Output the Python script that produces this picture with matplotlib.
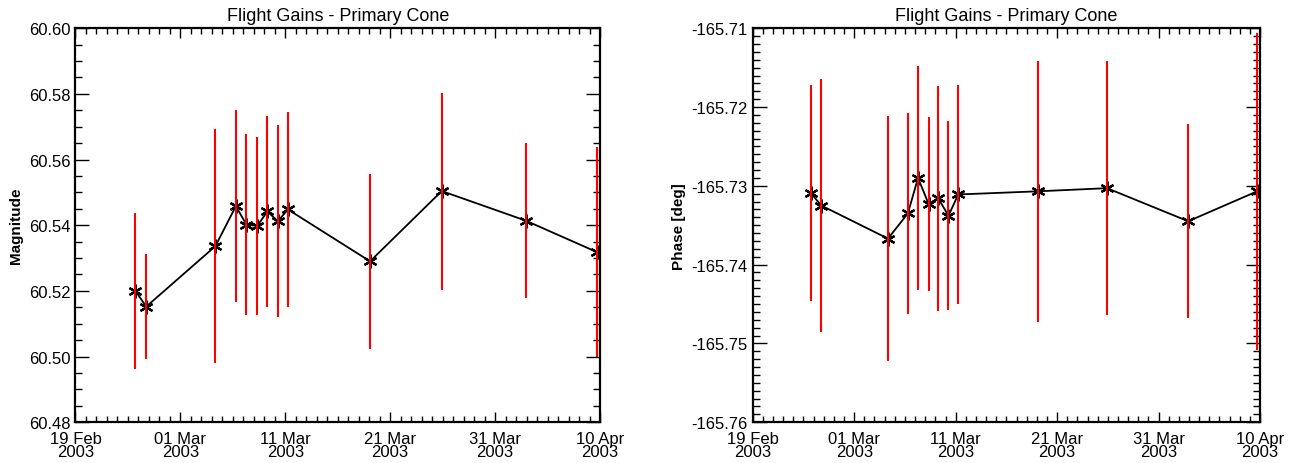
import matplotlib
matplotlib.use("Agg")
import matplotlib.pyplot as plt
import matplotlib.dates as mdates
from matplotlib.ticker import FixedLocator, MultipleLocator, FormatStrFormatter
import pandas as pd

dates = pd.to_datetime([
    "2003-02-24 17:00", "2003-02-25 18:00", "2003-03-04 08:00",
    "2003-03-06 07:00", "2003-03-07 07:00", "2003-03-08 08:00",
    "2003-03-09 07:00", "2003-03-10 07:00", "2003-03-11 06:00",
    "2003-03-19 02:00", "2003-03-25 22:00", "2003-04-02 22:00",
    "2003-04-09 17:00",
])

magnitude = [60.5200, 60.5152, 60.5336, 60.5458, 60.5402, 60.5398, 60.5442,
             60.5412, 60.5448, 60.5290, 60.5504, 60.5414, 60.5318]
mag_err = [0.0237, 0.0160, 0.0357, 0.0292, 0.0276, 0.0272, 0.0291,
           0.0293, 0.0298, 0.0266, 0.0300, 0.0237, 0.0320]

phase = [-165.7309, -165.7325, -165.7367, -165.7335, -165.7290, -165.7323,
         -165.7316, -165.7338, -165.7311, -165.7307, -165.7303, -165.7345,
         -165.7307]
phase_err = [0.0137, 0.0160, 0.0155, 0.0128, 0.0142, 0.0110, 0.0143,
             0.0120, 0.0139, 0.0166, 0.0161, 0.0123, 0.0201]

major_dates = pd.to_datetime(["2003-02-19", "2003-03-01", "2003-03-11",
                              "2003-03-21", "2003-03-31", "2003-04-10"])
title = "Flight Gains - Primary Cone"

plt.rcParams['font.family'] = ['Liberation Sans', 'DejaVu Sans']

fig = plt.figure(figsize=(12.92, 4.64), dpi=100)
ax1 = fig.add_axes([0.0584, 0.088, 0.406, 0.849])
ax2 = fig.add_axes([0.5826, 0.088, 0.3927, 0.849])


def style(ax, ylim, ymaj, ymin, fmt, ylabel):
    ax.set_xlim(major_dates[0], major_dates[-1])
    ax.xaxis.set_major_locator(FixedLocator(mdates.date2num(major_dates)))
    ax.xaxis.set_major_formatter(mdates.DateFormatter("%d %b\n%Y"))
    ax.xaxis.set_minor_locator(mdates.DayLocator())
    ax.set_ylim(*ylim)
    ax.yaxis.set_major_locator(MultipleLocator(ymaj))
    ax.yaxis.set_minor_locator(MultipleLocator(ymin))
    ax.yaxis.set_major_formatter(FormatStrFormatter(fmt))
    ax.tick_params(which='both', direction='in', top=True, right=True,
                   labelsize=12, width=1.0)
    ax.tick_params(axis='y', which='major', length=10)
    ax.tick_params(axis='y', which='minor', length=5)
    ax.tick_params(axis='x', which='major', length=7, pad=6)
    ax.tick_params(axis='x', which='minor', length=4)
    for s in ax.spines.values():
        s.set_linewidth(1.6)
    for lab in ax.get_xticklabels():
        lab.set_linespacing(0.85)
    ax.set_ylabel(ylabel, fontsize=11, fontweight='bold')
    ax.set_title(title, fontsize=13, pad=6)


ax1.plot(dates, magnitude, color='black', lw=1.3, marker=(6, 2, 0),
         markersize=10, markeredgewidth=1.6, zorder=2)
ax1.errorbar(dates, magnitude, yerr=mag_err, fmt='none', ecolor='red',
             elinewidth=1.5, capsize=0, zorder=3)
style(ax1, (60.48, 60.60), 0.02, 0.005, "%.2f", "Magnitude")

ax2.plot(dates, phase, color='black', lw=1.3, marker=(6, 2, 0),
         markersize=10, markeredgewidth=1.6, zorder=2)
ax2.errorbar(dates, phase, yerr=phase_err, fmt='none', ecolor='red',
             elinewidth=1.5, capsize=0, zorder=3)
style(ax2, (-165.76, -165.71), 0.01, 0.001, "%.2f", "Phase [deg]")

fig.savefig("out.png", dpi=100)
